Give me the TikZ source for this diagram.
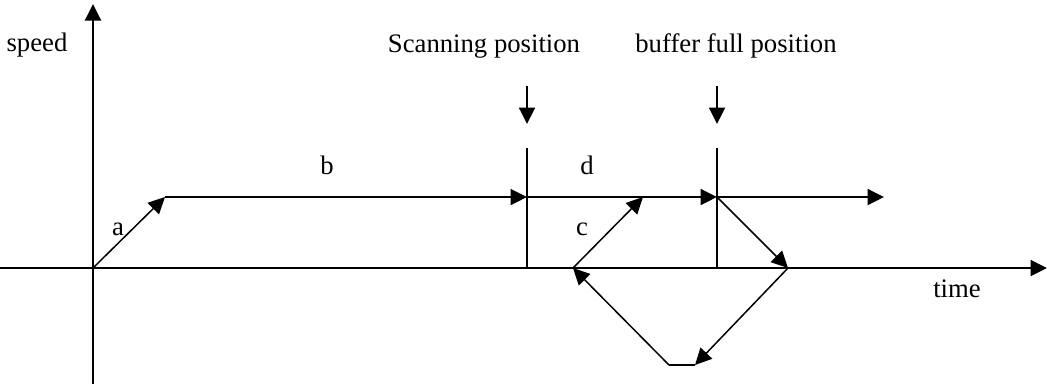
\documentclass[tikz,border=0pt]{standalone}
\usepackage{fontspec}
\setmainfont{Liberation Serif}
\usetikzlibrary{arrows.meta,positioning}
\tikzstyle{axisLine}=[line width=1.1pt, -{Triangle[length=3.3mm,width=3.2mm]}]
\tikzstyle{speedStep}=[line width=1.1pt, -{Triangle[length=3.3mm,width=3.2mm]}]
\tikzstyle{ramp}=[line width=0.85pt, -{Triangle[length=3.3mm,width=3.2mm]}]
\tikzstyle{marker}=[line width=0.85pt]
\tikzstyle{tag}=[anchor=base, inner sep=0pt, font=\fontsize{15.2}{18}\selectfont]

\begin{document}
\begin{tikzpicture}[x=0.02cm, y=-0.02cm]
    \useasboundingbox (0,0) rectangle (1047,387);

    % Axes
    \coordinate (yBottom) at (93, 384);
    \coordinate (yTop) at (93, 4);
    \coordinate (xLeft) at (0, 268);
    \coordinate (xRight) at (1047, 268);
    \draw[axisLine] (yBottom) -- (yTop);
    \draw[axisLine] (xLeft) -- (xRight);

    % Points
    \coordinate (o) at (93, 268);
    \coordinate (p1) at (165, 197);
    \coordinate (p2) at (527, 197);
    \coordinate (p3) at (717, 197);
    \coordinate (p4) at (884, 197);
    \coordinate (q1) at (573, 268);
    \coordinate (q2) at (643, 197);
    \coordinate (q3) at (788, 268);
    \coordinate (q4) at (695, 365);
    \coordinate (q5) at (669, 365);
    \coordinate (s1) at (527, 148);
    \coordinate (s2) at (527, 268);
    \coordinate (f1) at (717, 148);
    \coordinate (f2) at (717, 268);
    \coordinate (sTop) at (527, 86);
    \coordinate (sTip) at (527, 124);
    \coordinate (fTop) at (717, 86);
    \coordinate (fTip) at (717, 124);

    % Markers
    \draw[marker] (s1) -- (s2);
    \draw[marker] (f1) -- (f2);
    \draw[speedStep] (sTop) -- (sTip);
    \draw[speedStep] (fTop) -- (fTip);

    % Speed profile
    \draw[ramp] (o) -- (p1);
    \draw[speedStep] (p1) -- (p2);
    \draw[speedStep] (p2) -- (p3);
    \draw[speedStep] (p3) -- (p4);
    \draw[ramp] (q1) -- (q2);
    \draw[ramp] (p3) -- (q3);
    \draw[ramp] (q3) -- (q4);
    \draw[marker] (q4) -- (q5);
    \draw[ramp] (q5) -- (q1);

    % Labels
    \node[tag] (speedLbl) at (37, 51) {speed};
    \node[tag] (timeLbl) at (957, 297) {time};
    \node[tag] (scanLbl) at (484, 52) {Scanning position};
    \node[tag] (bufLbl) at (736, 52) {buffer full position};
    \node[tag] (aLbl) at (118, 235) {a};
    \node[tag] (bLbl) at (327, 174) {b};
    \node[tag] (cLbl) at (582, 235) {c};
    \node[tag] (dLbl) at (587, 174) {d};

\end{tikzpicture}
\end{document}
